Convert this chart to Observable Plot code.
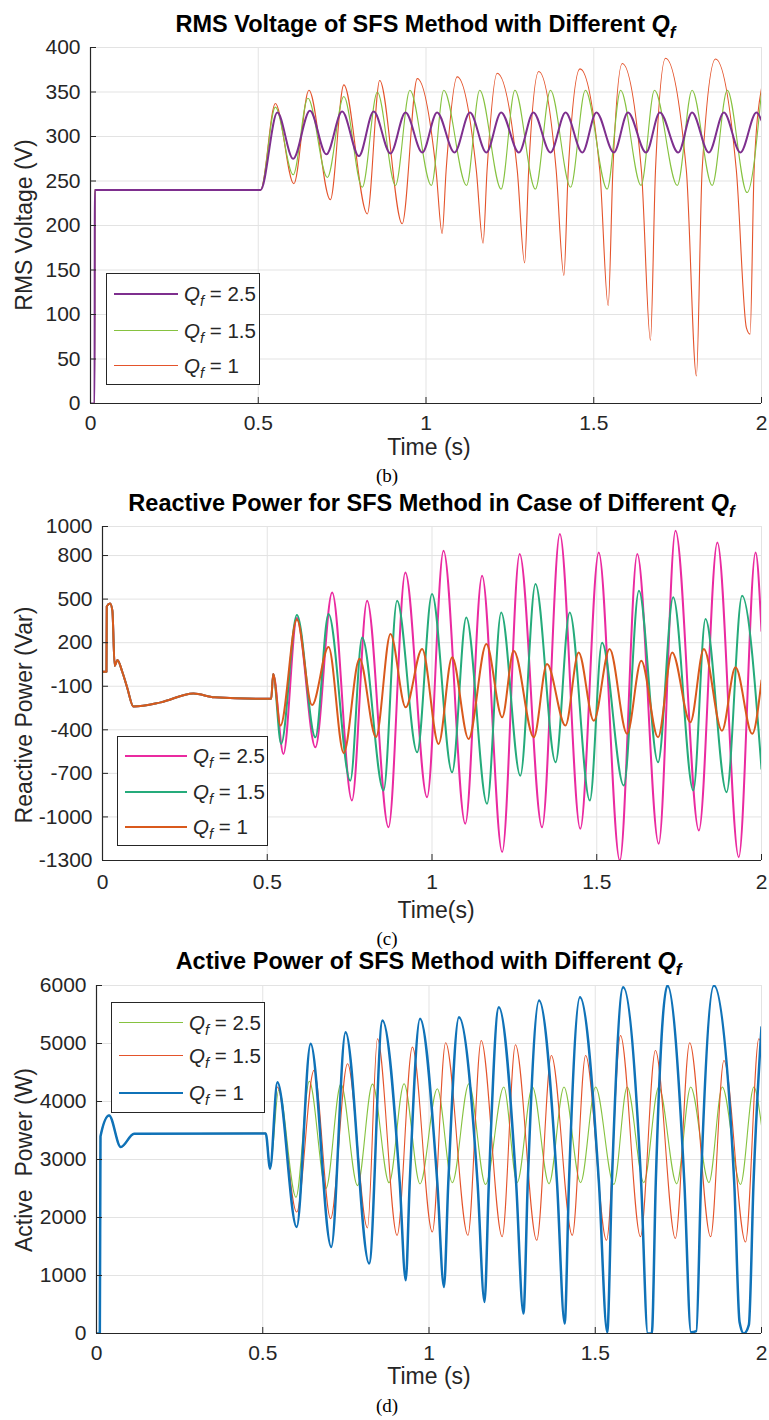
<!DOCTYPE html>
<html><head><meta charset="utf-8">
<script src="https://cdn.jsdelivr.net/npm/d3@7"></script>
<script src="https://cdn.jsdelivr.net/npm/@observablehq/plot@0.6"></script>
<style>
body{margin:0;background:#fff;width:769px;height:1420px;position:relative;overflow:hidden;font-family:"Liberation Sans",Arial,sans-serif;color:#262626}
.t{position:absolute;line-height:1;white-space:pre}
.title{font-weight:bold;font-size:23.5px;color:#000;transform:translateX(-50%)}
.xlab{font-size:23px;transform:translateX(-50%)}
.ylab{font-size:23px;transform:translate(-50%,-50%) rotate(-90deg)}
.cap{font-family:"Liberation Serif","Times New Roman",serif;font-size:19px;color:#000;transform:translateX(-50%)}
.legend{position:absolute;border:1px solid #262626;background:#fff;box-sizing:border-box}
.legend .sw{position:absolute;height:0}
.legend .lt{position:absolute;font-size:20.5px;line-height:1;white-space:nowrap;transform:translateY(-50%);color:#262626}
.q{font-style:italic}
.q sub{font-size:0.72em;vertical-align:-0.38em;line-height:0}
</style></head><body>
<script>
// ---------- shared ticks ----------
const xTicks = [0, 0.5, 1, 1.5, 2];
const p1YTicks = [0, 50, 100, 150, 200, 250, 300, 350, 400];
const p2YTicks = [-1300, -1000, -700, -400, -100, 200, 500, 800, 1000];
const p3YTicks = [0, 1000, 2000, 3000, 4000, 5000, 6000];
const legendLabels = ["2.5", "1.5", "1"];

// ---------- Panel (b): RMS voltage ----------
const p1_t25 = [0,0.012,0.013,0.507,0.557,0.604,0.654,0.703,0.750,0.800,0.844,0.894,0.939,0.989,1.033,1.085,1.131,1.180,1.224,1.277,1.320,1.371,1.416,1.466,1.508,1.560,1.602,1.656,1.697,1.752,1.793,1.843,1.888,1.937,1.985,2.0];
const p1_v25 = [0,0,240,240,327,275,329,280,328,278,328,281,327,282,327,282,327,282,327,282,327,282,327,282,327,282,327,282,327,282,327,282,327,282,327,318];
const p1_t15 = [0,0.012,0.013,0.507,0.551,0.604,0.648,0.706,0.755,0.810,0.855,0.909,0.952,1.016,1.053,1.121,1.160,1.224,1.265,1.326,1.371,1.431,1.475,1.540,1.580,1.641,1.681,1.749,1.793,1.853,1.898,1.957,2.0];
const p1_v15 = [0,0,240,240,333,257,343,254,345,243,350,245,352,245,352,245,352,241,352,241,352,243,352,241,352,245,352,245,352,245,352,237,350];
const p1_t1 = [0,0.012,0.013,0.507,0.551,0.606,0.651,0.715,0.755,0.825,0.862,0.929,0.974,1.030,1.048,1.060,1.093,1.150,1.170,1.182,1.212,1.272,1.294,1.306,1.336,1.388,1.411,1.424,1.459,1.518,1.543,1.557,1.585,1.642,1.669,1.684,1.714,1.776,1.806,1.823,1.863,1.925,1.955,1.966,1.978,2.0];
const p1_v1 = [0,0,240,240,337,247,352,229,358,213,363,202,365,262,191,262,367,262,180,262,371,262,158,262,373,262,144,262,376,262,110,262,382,262,71,262,388,262,31,262,387,262,85,78,262,354];

// ---------- Panel (c): reactive power ----------
const p2_tStart = [0,0.012,0.013,0.023,0.030,0.037,0.045,0.060,0.075,0.094,0.177,0.276,0.340,0.507,0.512,0.518];
const p2_vStart = [0,0,450,470,420,40,80,0,-110,-240,-211,-150,-176,-187,-187,-15];
const p2_t25 = [0.549,0.590,0.646,0.697,0.757,0.803,0.868,0.919,0.985,1.035,1.101,1.152,1.213,1.266,1.334,1.388,1.450,1.506,1.570,1.623,1.688,1.739,1.810,1.866,1.931,1.982,2.0];
const p2_v25 = [-566,370,-520,546,-887,489,-1071,684,-864,833,-1047,661,-1242,810,-1071,948,-1082,821,-1300,810,-1185,970,-1094,890,-1277,821,280];
const p2_t15 = [0.542,0.590,0.646,0.686,0.752,0.788,0.853,0.894,0.955,1.000,1.061,1.104,1.167,1.210,1.268,1.314,1.375,1.418,1.479,1.516,1.582,1.628,1.686,1.732,1.793,1.830,1.894,1.941,2.0];
const p2_v15 = [-497,390,-452,397,-750,236,-818,489,-555,535,-693,374,-910,408,-716,604,-624,408,-887,200,-784,558,-624,512,-818,363,-830,523,-669];
const p2_t1 = [0.540,0.590,0.636,0.686,0.732,0.780,0.830,0.874,0.920,0.970,1.020,1.061,1.111,1.165,1.213,1.248,1.309,1.349,1.405,1.445,1.491,1.539,1.592,1.635,1.686,1.729,1.784,1.825,1.880,1.921,1.972,2.0];
const p2_v1 = [-371,360,-230,170,-560,90,-450,260,-245,157,-497,100,-463,191,-314,145,-452,53,-371,133,-337,157,-428,76,-452,133,-348,157,-406,30,-428,-60];

// ---------- Panel (d): active power ----------
const p3_tStart = [0,0.010,0.012,0.038,0.073,0.113,0.509,0.522];
const p3_vStart = [0,0,3400,3760,3215,3445,3450,2842];
const p3_t25 = [0.548,0.600,0.640,0.690,0.735,0.785,0.830,0.880,0.925,0.973,1.025,1.070,1.120,1.170,1.225,1.265,1.311,1.361,1.406,1.456,1.501,1.556,1.596,1.646,1.691,1.745,1.787,1.842,1.882,1.937,1.977,2.0];
const p3_v25 = [4200,2350,4350,2500,4300,2550,4300,2600,4307,2580,4221,2600,4307,2570,4250,2600,4250,2580,4250,2600,4250,2570,4250,2600,4250,2580,4250,2600,4250,2570,4250,3588];
const p3_t15 = [0.544,0.602,0.654,0.704,0.755,0.815,0.845,0.904,0.950,1.010,1.050,1.117,1.157,1.220,1.260,1.324,1.368,1.431,1.471,1.534,1.576,1.636,1.681,1.741,1.784,1.847,1.887,1.952,1.992,2.0];
const p3_v15 = [4250,2095,4536,1981,4651,1820,5082,1693,4937,1750,5013,1693,5052,1670,4978,1607,4794,1693,4794,1607,5139,1670,4880,1640,5013,1670,4708,1578,5082,5000];
const p3_t1 = [0.544,0.602,0.644,0.706,0.749,0.820,0.860,0.912,0.930,0.942,0.973,1.025,1.045,1.058,1.090,1.146,1.167,1.180,1.210,1.262,1.284,1.297,1.331,1.385,1.408,1.421,1.454,1.511,1.536,1.550,1.584,1.638,1.658,1.670,1.682,1.717,1.768,1.788,1.804,1.818,1.857,1.918,1.934,1.947,1.962,1.976,2.0];
const p3_v1 = [4334,1837,4996,1492,5196,1206,5397,2600,918,2600,5426,2600,803,2600,5454,2600,545,2600,5626,2600,344,2600,5742,2600,172,2600,5798,2600,20,2600,5970,2600,0,0,2600,6000,2600,20,40,2600,6000,2600,200,0,150,2600,5282];

// ---------- helpers ----------
const rows = (t, v) => t.map((d, i) => ({t: d, v: v[i]}));
const FONT = '"Liberation Sans", Arial, sans-serif';
const root = document.body;
function place(el, left, top) { el.style.position = "absolute"; el.style.left = left + "px"; el.style.top = top + "px"; root.appendChild(el); }
function textAt(cls, html, x, base, fs, serif) {
  const el = document.createElement("div");
  el.className = "t " + cls;
  el.innerHTML = html;
  const k = serif ? 0.8375 : 0.8465;
  place(el, x, base - fs * k);
  return el;
}
const QF = '<span class="q">Q<sub>f</sub></span>';

function panel(cfg) {
  const frameW = 761 - cfg.left, frameH = cfg.bottom - cfg.top;
  const mt = 10, mb = 40;
  const xDomain = [0, 2];
  const byKey = Object.fromEntries(cfg.series.map(s => [s.key, s]));
  const marks = [
    Plot.gridX(xTicks, {stroke: "#e3e3e3", strokeOpacity: 1}),
    Plot.gridY(cfg.yTicks, {stroke: "#e3e3e3", strokeOpacity: 1}),
    ...cfg.draw.map(k => byKey[k]).map(s => Plot.line(rows(s.t, s.v), {x: "t", y: "v", stroke: s.color, strokeWidth: s.width, curve: "monotone-x", clip: true})),
    Plot.ruleX([xDomain[0]], {stroke: "#262626", strokeWidth: 1.2}),
    Plot.ruleY([cfg.yDomain[0]], {stroke: "#262626", strokeWidth: 1.2}),
    Plot.tickX(xTicks, {x: d => d, stroke: "#262626", insetTop: frameH - 6}),
    Plot.tickY(cfg.yTicks, {y: d => d, stroke: "#262626", insetRight: frameW - 6}),
    Plot.axisX(xTicks, {tickSize: 0, tickPadding: cfg.xPad, tickFormat: d => String(d), fontSize: 21, fill: "#262626"}),
    Plot.axisY(cfg.yTicks, {tickSize: 0, tickPadding: 10, tickFormat: d => String(d), fontSize: 21, fill: "#262626"})
  ];
  const svg = Plot.plot({
    width: 769, height: mt + frameH + mb,
    marginTop: mt, marginBottom: mb, marginLeft: cfg.left, marginRight: 8,
    x: {domain: xDomain, label: null},
    y: {domain: cfg.yDomain, label: null},
    style: {fontFamily: FONT, fontSize: "21px", color: "#262626", background: "transparent", overflow: "visible"},
    marks
  });
  place(svg, 0, cfg.top - mt);

  textAt("title", cfg.title + " " + QF, (cfg.left + 761) / 2, cfg.titleBase, 23.5);
  textAt("xlab", cfg.xlabel, cfg.xlabX, cfg.xlabBase, 23);
  const yl = document.createElement("div");
  yl.className = "t ylab"; yl.textContent = cfg.ylabel;
  place(yl, 24, cfg.ylabY);
  textAt("cap", cfg.caption, 387, cfg.capBase, 19, true);

  const lg = document.createElement("div");
  lg.className = "legend";
  lg.style.width = cfg.legend.w + "px"; lg.style.height = cfg.legend.h + "px";
  cfg.series.forEach((s, i) => {
    const y = cfg.legend.rows[i];
    const sw = document.createElement("div");
    sw.className = "sw";
    sw.style.left = "7px"; sw.style.width = cfg.legend.lineW + "px";
    sw.style.top = (y - s.width / 2) + "px";
    sw.style.borderTop = s.width + "px solid " + s.color;
    lg.appendChild(sw);
    const lt = document.createElement("div");
    lt.className = "lt";
    lt.style.left = (cfg.legend.lineW + 13) + "px"; lt.style.top = y + "px";
    lt.innerHTML = QF + " = " + legendLabels[i];
    lg.appendChild(lt);
  });
  place(lg, cfg.legend.x, cfg.legend.y);
}

panel({
  top: 47, bottom: 403, left: 90, yDomain: [0, 400], yTicks: p1YTicks, xPad: 12,
  title: "RMS Voltage of SFS Method with Different", titleBase: 33,
  xlabel: "Time (s)", xlabX: 429, xlabBase: 455,
  ylabel: "RMS Voltage (V)", ylabY: 225, caption: "(b)", capBase: 482,
  legend: {x: 106, y: 273, w: 154, h: 112, rows: [20, 57, 92], lineW: 64},
  series: [
    {key: "a", t: p1_t25, v: p1_v25, color: "#7e2f8e", width: 2},
    {key: "b", t: p1_t15, v: p1_v15, color: "#86c240", width: 1.1},
    {key: "c", t: p1_t1, v: p1_v1, color: "#e4532b", width: 1.1}
  ],
  draw: ["c", "b", "a"]
});

panel({
  top: 526, bottom: 860, left: 102, yDomain: [-1300, 1000], yTicks: p2YTicks, xPad: 14,
  title: "Reactive Power for SFS Method in Case of Different", titleBase: 512,
  xlabel: "Time(s)", xlabX: 436, xlabBase: 918,
  ylabel: "Reactive Power (Var)", ylabY: 715, caption: "(c)", capBase: 945,
  legend: {x: 117, y: 736, w: 151, h: 110, rows: [19, 55, 90], lineW: 62},
  series: [
    {key: "a", t: p2_tStart.concat(p2_t25), v: p2_vStart.concat(p2_v25), color: "#ea2aa0", width: 2},
    {key: "b", t: p2_tStart.concat(p2_t15), v: p2_vStart.concat(p2_v15), color: "#25ab7b", width: 2},
    {key: "c", t: p2_tStart.concat(p2_t1), v: p2_vStart.concat(p2_v1), color: "#d9591c", width: 2}
  ],
  draw: ["a", "b", "c"]
});

panel({
  top: 985, bottom: 1333, left: 96, yDomain: [0, 6000], yTicks: p3YTicks, xPad: 12,
  title: "Active Power of SFS Method with Different", titleBase: 970,
  xlabel: "Time (s)", xlabX: 429, xlabBase: 1384,
  ylabel: "Active  Power (W)", ylabY: 1160, caption: "(d)", capBase: 1412,
  legend: {x: 111, y: 1002, w: 154, h: 111, rows: [20, 53, 90], lineW: 64},
  series: [
    {key: "a", t: p3_tStart.concat(p3_t25), v: p3_vStart.concat(p3_v25), color: "#86c240", width: 1.1},
    {key: "b", t: p3_tStart.concat(p3_t15), v: p3_vStart.concat(p3_v15), color: "#e4532b", width: 1.1},
    {key: "c", t: p3_tStart.concat(p3_t1), v: p3_vStart.concat(p3_v1), color: "#0f72b8", width: 2.5}
  ],
  draw: ["a", "b", "c"]
});
</script>
</body></html>
